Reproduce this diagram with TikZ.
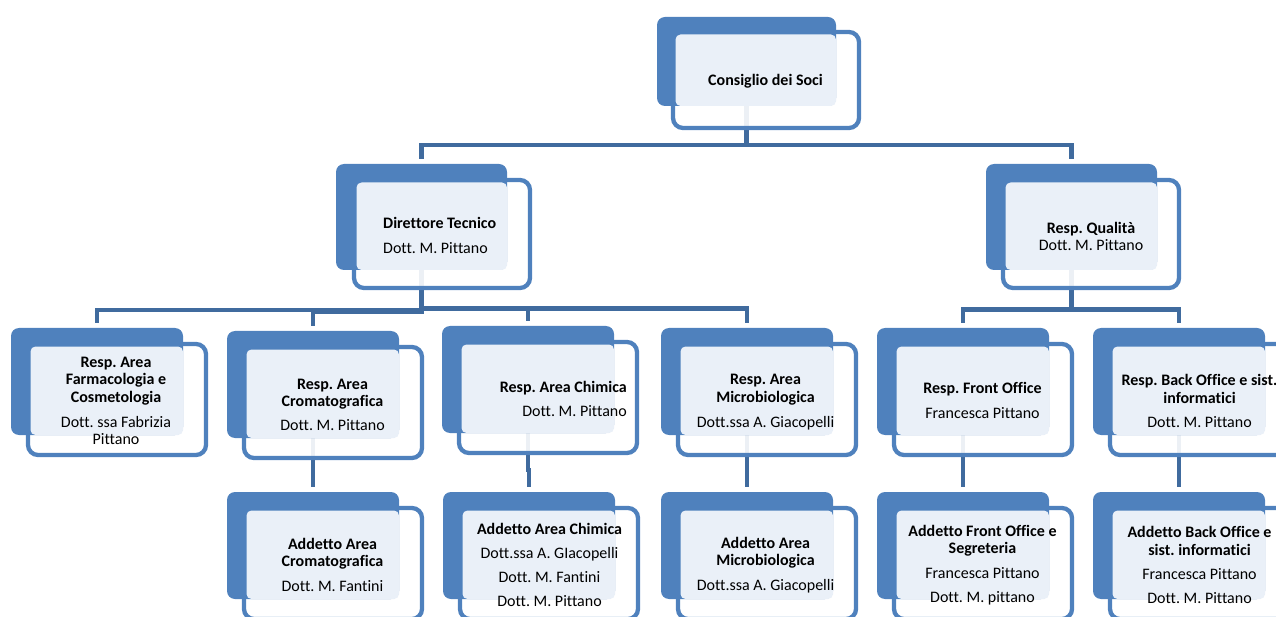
\documentclass[tikz,border=0pt]{standalone}
\usepackage{fontspec}
\setmainfont{Carlito}[Ligatures=NoCommon]
\frenchspacing
\pgfdeclarelayer{bg}
\pgfsetlayers{bg,main}
\definecolor{boxblue}{RGB}{79,129,189}
\definecolor{connblue}{RGB}{64,107,158}
\definecolor{lightfill}{RGB}{234,240,248}
\tikzset{
  backbox/.style={fill=boxblue, rounded corners=8pt, inner sep=0pt, outer sep=0pt},
  whitebox/.style={draw=boxblue, line width=4.3pt, fill=white, fill opacity=0.9, draw opacity=1, rounded corners=10pt, inner sep=0pt, outer sep=0pt},
  lightbox/.style={fill=lightfill, rounded corners=5pt},
  txt/.style={font=\fontsize{16}{17.5}\selectfont\frenchspacing, align=center, inner sep=0pt, text=black},
  conn/.style={draw=connblue, line width=4.5pt},
}
% #1 name, #2 back left, #3 back top, #4 back w, #5 back h, #6 white dx, #7 white dy, #8 white w, #9 white h
\newcommand\orgbox[9]{%
  \node[whitebox, anchor=north west, minimum width=#8pt, minimum height=#9pt] (#1) at (#2+#6,#3+#7) {};
  \node[backbox, anchor=north west, minimum width=#4pt, minimum height=#5pt] (#1B) at (#2,#3) {};
  \fill[lightbox] ([shift={(2.5,2.5)}]#1.north west) rectangle (#1B.south east);
}
\begin{document}
\begin{tikzpicture}[x=1pt,y=-1pt]
\useasboundingbox (0,0) rectangle (1276,617);
\clip (0,0) rectangle (1276,617);
% level 1
\orgbox{cons}{657}{17}{179}{89}{16}{15}{186}{96}
% level 2
\orgbox{dir}{336}{164}{171}{106}{18}{16}{176}{108}
\orgbox{qual}{986}{164}{171}{106}{17}{16}{176}{108}
% level 3
\orgbox{farm}{11}{328}{172}{107}{17}{16}{178}{111}
\orgbox{crom}{227}{331}{172}{107}{17}{16}{178}{111}
\orgbox{chim}{442}{326}{172}{107}{17}{16}{178}{111}
\orgbox{micro}{661}{328}{172}{107}{17}{16}{178}{111}
\orgbox{front}{877}{328}{172}{107}{17}{16}{178}{111}
\orgbox{back}{1093}{328}{172}{107}{17}{16}{178}{111}
% level 4
\orgbox{acrom}{227}{492}{172}{107}{17}{16}{178}{111}
\orgbox{achim}{443}{492}{172}{107}{17}{16}{178}{111}
\orgbox{amicro}{661}{492}{172}{107}{17}{16}{178}{111}
\orgbox{afront}{877}{492}{172}{107}{17}{16}{178}{111}
\orgbox{aback}{1093}{492}{172}{107}{17}{16}{178}{111}
% texts
\node[txt] (consT) at (765.5,81) {\textbf{Consiglio dei Soci}};
\node[txt, align=left, anchor=west] (dirT) at (383,235.5) {\textbf{Direttore Tecnico}\\[7.5pt]Dott. M. Pittano};
\node[txt] (qualT) at (1091,236.5) {\textbf{Resp. Qualità}\\Dott. M. Pittano};
\node[txt] (farmT) at (116,401) {\textbf{Resp. Area}\\\textbf{Farmacologia e}\\\textbf{Cosmetologia}\\[7.5pt]Dott. ssa Fabrizia\\Pittano};
\node[txt] (cromT) at (332.5,404.5) {\textbf{Resp. Area}\\\textbf{Cromatografica}\\[6pt]Dott. M. Pittano};
\node[txt, align=right, anchor=east] (chimT) at (627,399) {\textbf{Resp. Area Chimica}\\[7pt]Dott. M. Pittano};
\node[txt] (microT) at (765.5,402) {\textbf{Resp. Area}\\\textbf{Microbiologica}\\[7.5pt]Dott.ssa A. Giacopelli};
\node[txt] (frontT) at (982.5,400.5) {\textbf{Resp. Front Office}\\[7.5pt]Francesca Pittano};
\node[txt] (backT) at (1199.5,401) {\textbf{Resp. Back Office e sist.}\\\textbf{informatici}\\[7pt]Dott. M. Pittano};
\node[txt] (acromT) at (332.5,565) {\textbf{Addetto Area}\\\textbf{Cromatografica}\\[7.5pt]Dott. M. Fantini};
\node[txt] (achimT) at (549.5,565) {\textbf{Addetto Area Chimica}\\[6pt]Dott.ssa A. GIacopelli\\[7pt]Dott. M. Fantini\\[6.5pt]Dott. M. Pittano};
\node[txt] (amicroT) at (765.5,565) {\textbf{Addetto Area}\\\textbf{Microbiologica}\\[7.5pt]Dott.ssa A. Giacopelli};
\node[txt] (afrontT) at (982.5,565) {\textbf{Addetto Front Office e}\\\textbf{Segreteria}\\[7pt]Francesca Pittano\\[6.5pt]Dott. M. pittano};
\node[txt] (abackT) at (1199.5,565) {\textbf{Addetto Back Office e}\\\textbf{sist. informatici}\\[7pt]Francesca Pittano\\[6.5pt]Dott. M. Pittano};
% bus coordinates
\coordinate (busA) at (0,145);
\coordinate (busL) at (0,310);
\coordinate (busLc) at (0,311.5);
\coordinate (busR) at (0,308.5);
\coordinate (busQ) at (0,309.5);
\begin{pgfonlayer}{bg}
\draw[conn] (consB.center) -- (consB.center |- busA) -| ([yshift=5pt]dirB.north);
\draw[conn] (consB.center) -- (consB.center |- busA) -| ([yshift=5pt]qualB.north);
\draw[conn] (dirB.center) -- (dirB.center |- busL) -| ([yshift=5pt]farmB.north);
\draw[conn] (dirB.center) -- (dirB.center |- busLc) -| ([yshift=5pt]cromB.north);
\draw[conn] (dirB.center) -- (dirB.center |- busR) -| ([yshift=5pt]chimB.north);
\draw[conn] (dirB.center) -- (dirB.center |- busR) -| ([yshift=5pt]microB.north);
\draw[conn] (qualB.center) -- (qualB.center |- busQ) -| ([yshift=5pt]frontB.north);
\draw[conn] (qualB.center) -- (qualB.center |- busQ) -| ([yshift=5pt]backB.north);
\draw[conn] (cromB.center) -- ([yshift=5pt]acromB.north);
\draw[conn] (chimB.center) |- ([yshift=22pt]achimB.north) -- ([yshift=5pt]achimB.north);
\draw[conn] (microB.center) -- ([yshift=5pt]amicroB.north);
\draw[conn] (frontB.center) -- ([yshift=5pt]afrontB.north);
\draw[conn] (backB.center) -- ([yshift=5pt]abackB.north);
\end{pgfonlayer}
\end{tikzpicture}
\end{document}
